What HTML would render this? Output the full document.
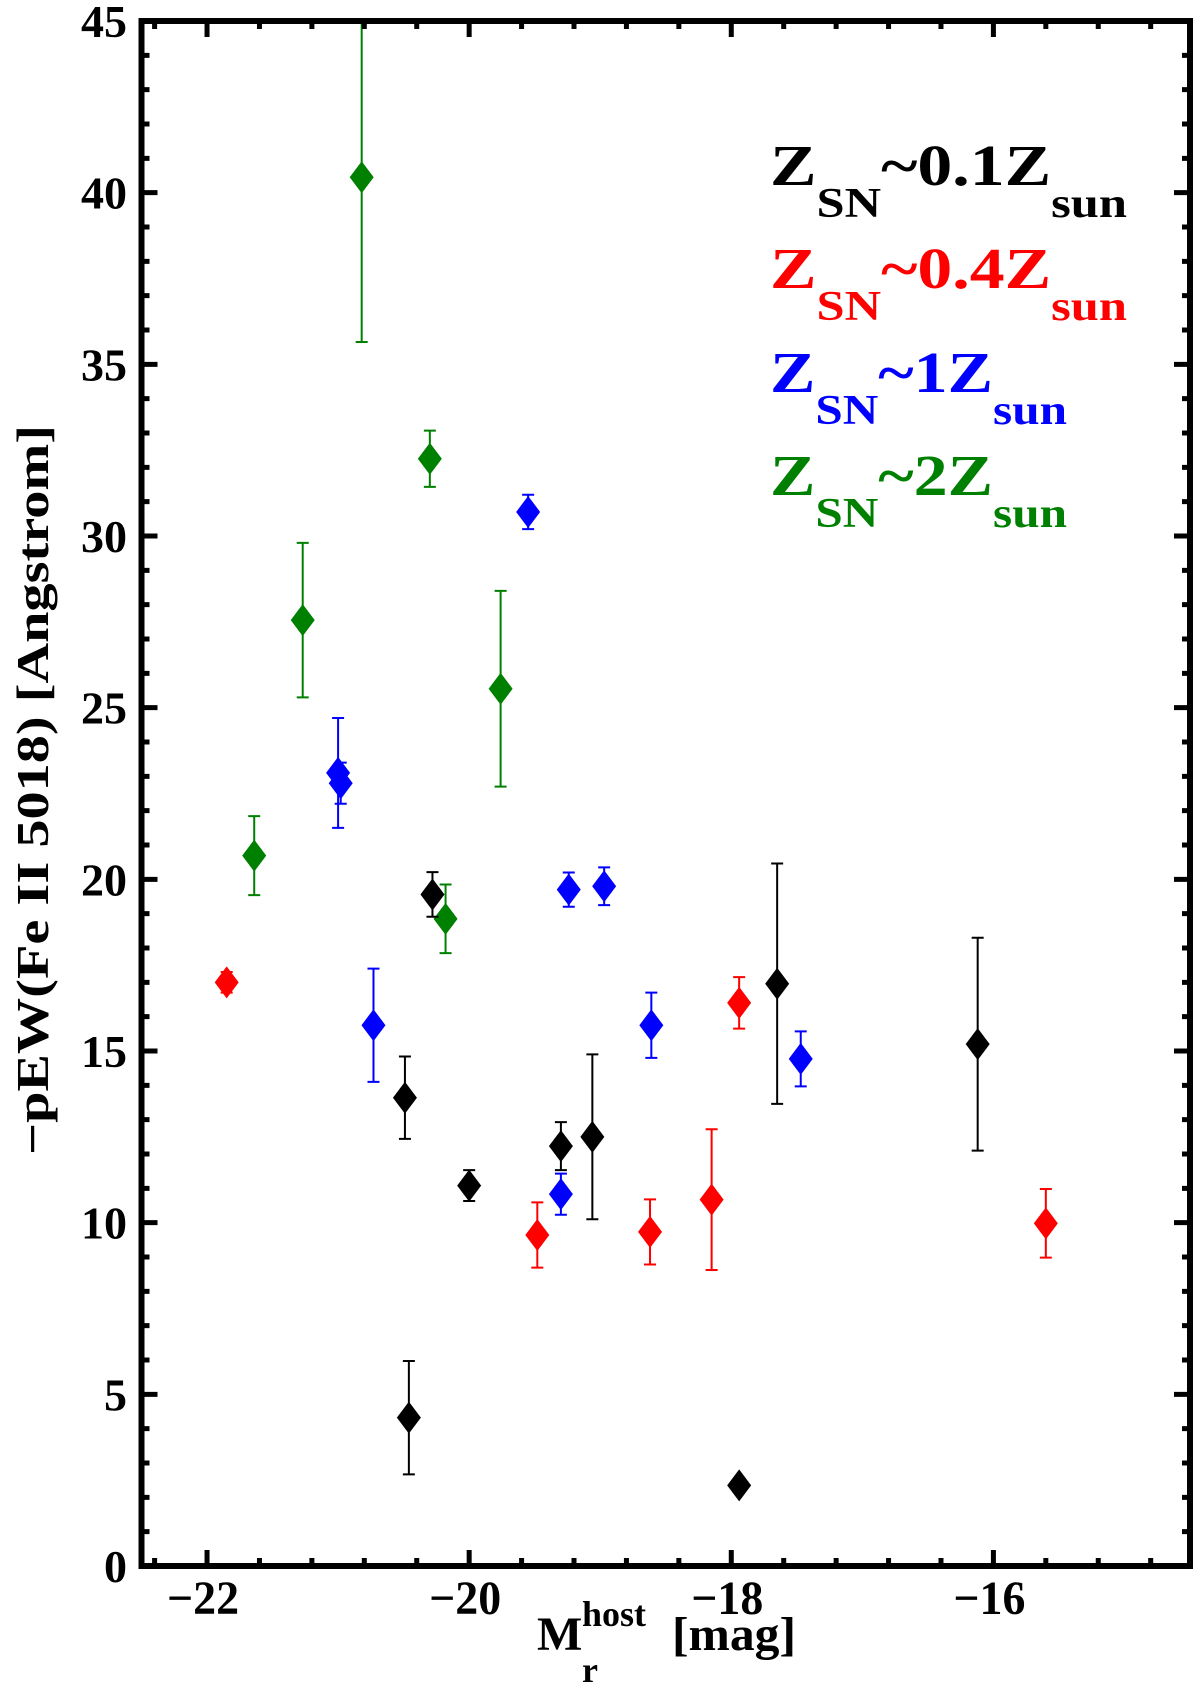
<!DOCTYPE html>
<html><head><meta charset="utf-8">
<style>
html,body{margin:0;padding:0;background:#fff;}
svg{display:block;}
text{font-family:"Liberation Serif",serif;font-weight:bold;}
</style></head>
<body>
<svg id="chart" width="1200" height="1686" viewBox="0 0 1200 1686" xmlns="http://www.w3.org/2000/svg">
  <g id="marks"></g>
  <g id="axes"></g>
  <text transform="translate(48,790) rotate(-90)" text-anchor="middle" font-size="46" textLength="730" lengthAdjust="spacingAndGlyphs">−pEW(Fe II 5018) [Angstrom]</text>
  <g>
    <text x="537" y="1650" font-size="48">M</text>
    <text x="582" y="1626" font-size="36">host</text>
    <text x="582" y="1682" font-size="36">r</text>
    <text x="672" y="1650" font-size="48" textLength="124" lengthAdjust="spacingAndGlyphs">[mag]</text>
  </g>
  <g>
    <text fill="#000" x="770" y="185" textLength="357" lengthAdjust="spacingAndGlyphs"><tspan font-size="58">Z</tspan><tspan font-size="42" dy="32">SN</tspan><tspan font-size="58" dy="-32">~0.1Z</tspan><tspan font-size="42" dy="32">sun</tspan></text>
    <text fill="#f00" x="770" y="288" textLength="357" lengthAdjust="spacingAndGlyphs"><tspan font-size="58">Z</tspan><tspan font-size="42" dy="32">SN</tspan><tspan font-size="58" dy="-32">~0.4Z</tspan><tspan font-size="42" dy="32">sun</tspan></text>
    <text fill="#00f" x="770" y="392" textLength="297" lengthAdjust="spacingAndGlyphs"><tspan font-size="58">Z</tspan><tspan font-size="42" dy="32">SN</tspan><tspan font-size="58" dy="-32">~1Z</tspan><tspan font-size="42" dy="32">sun</tspan></text>
    <text fill="#008000" x="770" y="495" textLength="297" lengthAdjust="spacingAndGlyphs"><tspan font-size="58">Z</tspan><tspan font-size="42" dy="32">SN</tspan><tspan font-size="58" dy="-32">~2Z</tspan><tspan font-size="42" dy="32">sun</tspan></text>
  </g>
</svg>
<script>
const blackX=[-20.28,-17.65,-16.12,-20.49,-20.00,-19.30,-19.06,-20.46,-17.94];
const blackY=[19.56,16.96,15.2,13.64,11.08,12.23,12.5,4.32,2.35];
const blackE=[0.65,3.5,3.1,1.2,0.45,0.7,2.4,1.65,0];
const redX=[-21.85,-17.94,-19.48,-18.62,-18.15,-15.60];
const redY=[17.0,16.4,9.64,9.73,10.67,9.98];
const redE=[0.3,0.75,0.95,0.95,2.05,1.0];
const blueX=[-19.55,-21.00,-20.98,-19.24,-18.97,-20.73,-18.61,-17.47,-19.30];
const blueY=[30.7,23.1,22.8,19.7,19.8,15.75,15.75,14.77,10.83];
const blueE=[0.5,1.6,0.6,0.5,0.55,1.65,0.95,0.8,0.6];
const greenX=[-20.82,-20.30,-21.27,-19.76,-21.64,-20.18];
const greenY=[40.45,32.25,27.55,25.55,20.69,18.85];
const greenE=[4.8,0.82,2.25,2.85,1.15,1.0];
const xTicks=[-22,-20,-18,-16];
const xTickLabels=["−22","−20","−18","−16"];
const yTicks=[0,5,10,15,20,25,30,35,40,45];

const L=141.5,R=1190,T=21,B=1566;
const xMin=-22.5,xMax=-14.5,yMin=0,yMax=45;
const sx=v=>L+(v-xMin)/(xMax-xMin)*(R-L);
const sy=v=>B-(v-yMin)/(yMax-yMin)*(B-T);
const NS="http://www.w3.org/2000/svg";
function mk(tag,attrs,parent){const e=document.createElementNS(NS,tag);for(const k in attrs)e.setAttribute(k,attrs[k]);parent.appendChild(e);return e;}
const marks=document.getElementById('marks');
const axes=document.getElementById('axes');
function series(xs,ys,es,color,name){
  const g=mk('g',{},marks);
  
  
  for(let i=0;i<xs.length;i++){
    const cx=sx(xs[i]),cy=sy(ys[i]);
    if(es[i]>0){
      const top=Math.max(T,sy(ys[i]+es[i])),bot=sy(ys[i]-es[i]);
      const eb=mk('path',{d:`M${cx},${top}V${bot}M${cx-6},${bot}H${cx+6}`+(sy(ys[i]+es[i])>=T?`M${cx-6},${top}H${cx+6}`:''),stroke:color,'stroke-width':2,fill:'none'},g);
      
      
    }
    const d=mk('path',{d:`M${cx},${cy-16}L${cx+12},${cy}L${cx},${cy+16}L${cx-12},${cy}Z`,fill:color},g);
    
    
  }
}
series(greenX,greenY,greenE,'#008000','green');
series(blueX,blueY,blueE,'#0000ff','blue');
series(redX,redY,redE,'#ff0000','red');
series(blackX,blackY,blackE,'#000000','black');

const fr=mk('rect',{x:L,y:T,width:R-L,height:B-T,fill:'none',stroke:'#000','stroke-width':6},axes);


for(let v=-22.4;v<xMax-0.01;v+=0.4){
  const vv=Math.round(v*10)/10;
  const major=Math.abs(vv-Math.round(vv))<0.01&&Math.round(vv)%2===0;
  const len=major?16:8,x=sx(vv);
  const t=mk('path',{d:`M${x},${B}V${B-len}M${x},${T}V${T+len}`,stroke:'#000','stroke-width':5},axes);
  
  
}
xTicks.forEach((v,i)=>{
  const t=mk('text',{x:sx(v)-4,y:1614,'text-anchor':'middle','font-size':48,textLength:72,lengthAdjust:'spacingAndGlyphs'},axes);
  t.textContent=xTickLabels[i];
  
  
});
for(let v=1;v<45;v++){
  const major=v%5===0,len=major?16:8,y=sy(v);
  const t=mk('path',{d:`M${L},${y}H${L+len}M${R},${y}H${R-len}`,stroke:'#000','stroke-width':5},axes);
  
  
}
yTicks.forEach(v=>{
  const t=mk('text',{x:127,y:sy(v)+16,'text-anchor':'end','font-size':46},axes);
  t.textContent=String(v);
  
  
});
</script>
</body></html>
